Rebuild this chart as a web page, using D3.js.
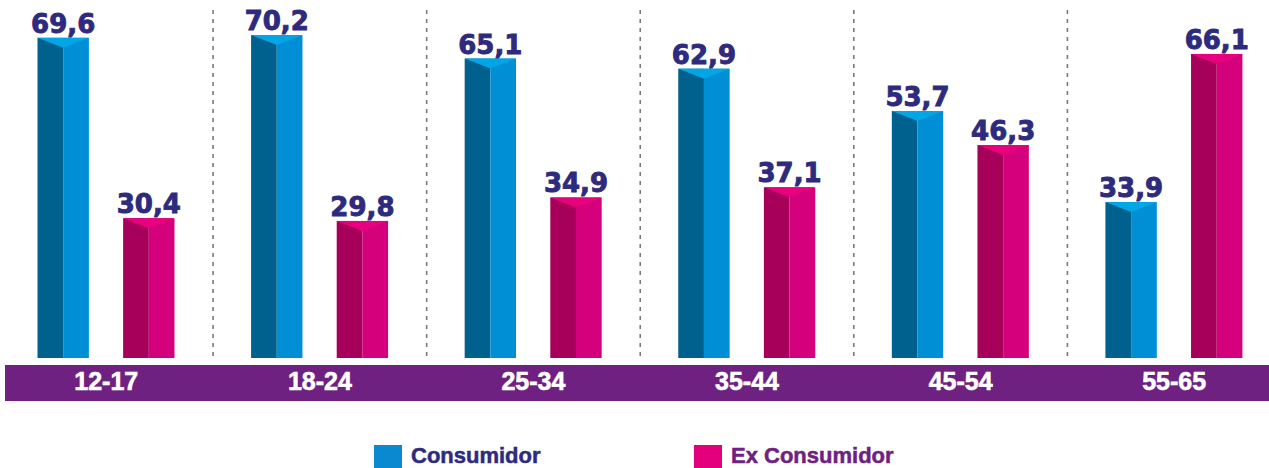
<!DOCTYPE html>
<html lang="es">
  <head>
    <meta charset="UTF-8" />
    <title>Consumidor vs Ex Consumidor por edad</title>
    <script src="https://d3js.org/d3.v7.min.js"></script>
    <style>
      body { margin: 0; background: #fff; }
      svg { display: block; font-family: "DejaVu Sans", sans-serif; }
    </style>
  </head>
  <body>
    <svg id="chart" width="1269" height="468"></svg>
    <script>
      // datos
      const categories = ["12-17", "18-24", "25-34", "35-44", "45-54", "55-65"];
      const consumidor = [69.6, 70.2, 65.1, 62.9, 53.7, 33.9];
      const exConsumidor = [30.4, 29.8, 34.9, 37.1, 46.3, 66.1];
      const seriesNames = ["Consumidor", "Ex Consumidor"];

      const svg = d3.select("#chart");
      const baseY = 358;

      const x0 = d3.scaleBand().domain(categories).range([-0.5, 1281]);
      const x1 = d3
        .scaleBand()
        .domain(seriesNames)
        .range([38, 175])
        .paddingInner(0.4);
      const y = d3.scaleLinear().domain([0, 70]).range([baseY, baseY - 70 * 4.6]);

      const colors = {
        Consumidor: { left: "#00618f", right: "#008fd5", top: "#00a6e6", legend: "#0a89d0" },
        "Ex Consumidor": { left: "#a6005b", right: "#d5007b", top: "#e9007f", legend: "#e4007c" },
      };

      const rows = categories.map((c, i) => ({
        cat: c,
        values: [
          { name: "Consumidor", value: consumidor[i] },
          { name: "Ex Consumidor", value: exConsumidor[i] },
        ],
      }));

      // separadores punteados
      svg
        .append("g")
        .selectAll("line")
        .data(categories.slice(1))
        .join("line")
        .attr("x1", (d) => x0(d))
        .attr("x2", (d) => x0(d))
        .attr("y1", 10)
        .attr("y2", baseY)
        .attr("stroke", "#7a7a7a")
        .attr("stroke-width", 1.6)
        .attr("stroke-dasharray", "4,5");

      const groups = svg
        .append("g")
        .selectAll("g")
        .data(rows)
        .join("g")
        .attr("transform", (d) => `translate(${x0(d.cat)},0)`);

      const bars = groups
        .selectAll("g")
        .data((d) => d.values)
        .join("g");

      const w = x1.bandwidth();

      // cara izquierda
      bars
        .append("rect")
        .attr("x", (d) => x1(d.name))
        .attr("y", (d) => y(d.value))
        .attr("width", w / 2)
        .attr("height", (d) => baseY - y(d.value))
        .attr("fill", (d) => colors[d.name].left);

      // cara derecha
      bars
        .append("rect")
        .attr("x", (d) => x1(d.name) + w / 2)
        .attr("y", (d) => y(d.value))
        .attr("width", w / 2)
        .attr("height", (d) => baseY - y(d.value))
        .attr("fill", (d) => colors[d.name].right);

      // tapa superior
      bars
        .append("path")
        .attr("d", (d) => {
          const xl = x1(d.name);
          const t = y(d.value);
          return `M${xl},${t}L${xl + w},${t}L${xl + w / 2},${t + 10}Z`;
        })
        .attr("fill", (d) => colors[d.name].top);

      // etiquetas de valor
      bars
        .append("text")
        .attr("x", (d) => x1(d.name) + w / 2)
        .attr("y", (d) => y(d.value) - 5)
        .attr("text-anchor", "middle")
        .attr("font-size", 26)
        .attr("font-weight", "bold")
        .attr("fill", "#2e2a7d")
        .attr("stroke", "#2e2a7d")
        .attr("stroke-width", 0.9)
        .text((d) => d.value.toFixed(1).replace(".", ","));

      // banda de categorías
      svg
        .append("rect")
        .attr("x", 5)
        .attr("y", 365)
        .attr("width", 1264)
        .attr("height", 36)
        .attr("fill", "#6e2180");

      svg
        .append("g")
        .selectAll("text")
        .data(categories)
        .join("text")
        .attr("x", (d) => x0(d) + x0.bandwidth() / 2)
        .attr("y", 390)
        .attr("text-anchor", "middle")
        .attr("font-family", "'Liberation Sans', Arial, sans-serif")
        .attr("font-size", 25)
        .attr("font-weight", "bold")
        .attr("fill", "#fff")
        .attr("stroke", "#fff")
        .attr("stroke-width", 0.6)
        .text((d) => d);

      // leyenda
      const legendX = [374, 694];
      const legend = svg
        .append("g")
        .selectAll("g")
        .data(seriesNames)
        .join("g")
        .attr("transform", (d, i) => `translate(${legendX[i]},445)`);

      legend
        .append("rect")
        .attr("width", 28)
        .attr("height", 23)
        .attr("fill", (d) => colors[d].legend);

      legend
        .append("text")
        .attr("x", 37)
        .attr("y", 18)
        .attr("font-family", "'Liberation Sans', Arial, sans-serif")
        .attr("font-size", 22)
        .attr("font-weight", "bold")
        .attr("fill", (d, i) => (i === 0 ? "#2e2a7d" : "#6e2180"))
        .attr("stroke", (d, i) => (i === 0 ? "#2e2a7d" : "#6e2180"))
        .attr("stroke-width", 0.5)
        .text((d) => d);
    </script>
  </body>
</html>
